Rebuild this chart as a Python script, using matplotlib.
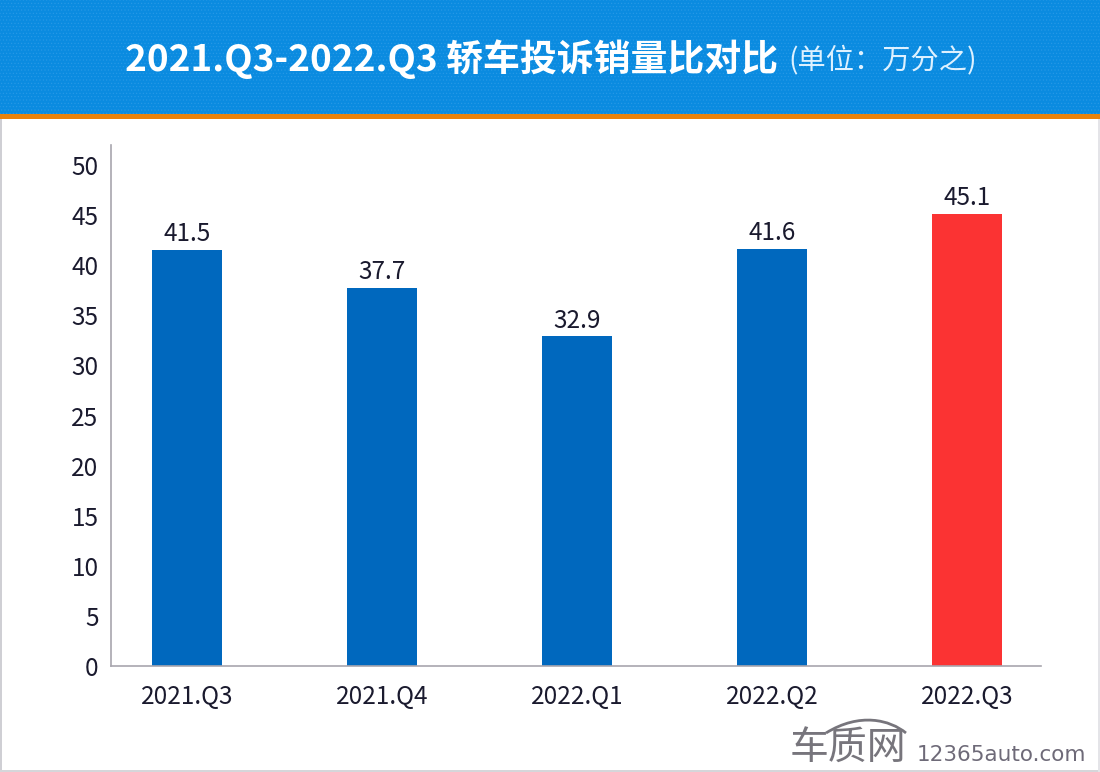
import matplotlib
matplotlib.use('Agg')
import matplotlib.pyplot as plt
from matplotlib.patches import Rectangle, PathPatch
from matplotlib.path import Path

plt.rcParams['font.family'] = ['Noto Sans CJK SC', 'DejaVu Sans']
plt.rcParams['hatch.linewidth'] = 0.4

categories = ['2021.Q3', '2021.Q4', '2022.Q1', '2022.Q2', '2022.Q3']
values = [41.5, 37.7, 32.9, 41.6, 45.1]
bar_colors = ['#0068BE', '#0068BE', '#0068BE', '#0068BE', '#FB3333']
yticks = [0, 5, 10, 15, 20, 25, 30, 35, 40, 45, 50]
title_main = '2021.Q3-2022.Q3 轿车投诉销量比对比'
title_unit = '(单位：万分之)'

W, H = 1100, 772
fig = plt.figure(figsize=(W / 100, H / 100), dpi=100, facecolor='white')

def fx(px): return px / W
def fy(py): return 1 - py / H

# header band, orange rule and frame
fig.add_artist(Rectangle((0, fy(114)), 1, 114 / H, transform=fig.transFigure, fc='#0A8BE0', ec='#2A9AE6', hatch='.....', lw=0))
fig.add_artist(Rectangle((0, fy(119)), 1, 5 / H, transform=fig.transFigure, fc='#E8820C', ec='none'))
fig.add_artist(Rectangle((0, 0), 1.5 / W, 1 - 119 / H, transform=fig.transFigure, fc='#CFCFD4', ec='none'))
fig.add_artist(Rectangle((0, 0), 1, 2 / H, transform=fig.transFigure, fc='#D6D6DA', ec='none'))
fig.add_artist(Rectangle((1 - 2 / W, 0), 2 / W, 1 - 119 / H, transform=fig.transFigure, fc='#E4E4E8', ec='none'))

fig.text(fx(125), fy(59), title_main, color='white', fontsize=26.6, fontweight='bold', ha='left', va='center')
fig.text(fx(788), fy(60), title_unit, color='#DDF1FF', fontsize=20.3, ha='left', va='center')

ax = fig.add_axes([fx(111), fy(666), (1041 - 111) / W, (666 - 145) / H])
ax.set_facecolor('none')
xs = list(range(len(categories)))
bars = ax.bar(xs, values, width=0.36, color=bar_colors)
for x, v in zip(xs, values):
    ax.annotate(f'{v:.1f}', (x, v), xytext=(0, 2), textcoords='offset points',
                ha='center', va='bottom', fontsize=17.5, color='#1A1A2E')

ax.set_xlim(-0.39, 4.38)
ax.set_ylim(0, 52)
ax.set_xticks(xs, categories)
ax.set_yticks(yticks)
ax.tick_params(axis='both', length=0, labelsize=17.5, labelcolor='#1A1A2E')
ax.tick_params(axis='x', pad=13)
ax.tick_params(axis='y', pad=9)
for s in ('top', 'right'):
    ax.spines[s].set_visible(False)
for s in ('left', 'bottom'):
    ax.spines[s].set_color('#A8A6AE')
    ax.spines[s].set_linewidth(1.2)

# watermark
fig.text(fx(790), fy(760), '车质网', color='#77757C', fontsize=28, fontweight='medium', ha='left', va='baseline')
arc = Path([(fx(826), fy(733)), (fx(860), fy(712)), (fx(890), fy(720)), (fx(906), fy(733))],
           [Path.MOVETO, Path.CURVE4, Path.CURVE4, Path.CURVE4])
fig.add_artist(PathPatch(arc, transform=fig.transFigure, fc='none', ec='#77757C', lw=2))
fig.text(fx(917), fy(761), '12365auto.com', color='#6E6A78', fontsize=15.5, family=['DejaVu Sans'], ha='left', va='baseline')

fig.savefig('out.png', dpi=100, facecolor='white')
